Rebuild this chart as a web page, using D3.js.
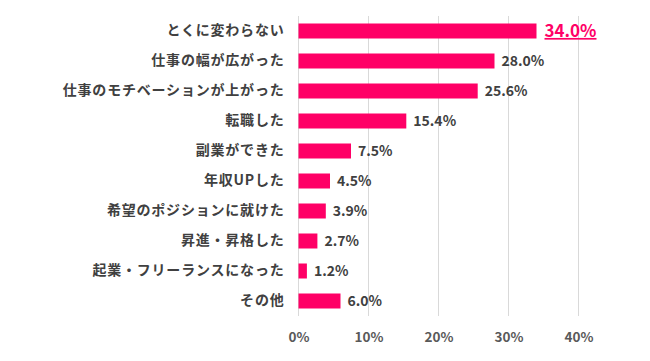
<!DOCTYPE html>
<html>
<head>
<meta charset="utf-8">
<script src="https://cdn.jsdelivr.net/npm/d3@7"></script>
<style>
  body { margin: 0; background: #fff; }
  svg text { font-family: "Noto Sans CJK JP", "Noto Sans", sans-serif; font-weight: bold; }
</style>
</head>
<body>
<div id="chart"></div>
<script>
// カテゴリと値
const categories = [
  'とくに変わらない',
  '仕事の幅が広がった',
  '仕事のモチベーションが上がった',
  '転職した',
  '副業ができた',
  '年収UPした',
  '希望のポジションに就けた',
  '昇進・昇格した',
  '起業・フリーランスになった',
  'その他'
];
const values = [34.0, 28.0, 25.6, 15.4, 7.5, 4.5, 3.9, 2.7, 1.2, 6.0];
const xTicks = [0, 10, 20, 30, 40];

const width = 650, height = 361;
const margin = { top: 16, right: 72, bottom: 45, left: 298.5 };
const innerW = width - margin.left - margin.right;
const innerH = height - margin.top - margin.bottom;

const data = categories.map((c, i) => ({ cat: c, val: values[i] }));

const svg = d3.select('#chart').append('svg')
  .attr('width', width)
  .attr('height', height);
const g = svg.append('g')
  .attr('transform', 'translate(' + margin.left + ',' + margin.top + ')');

const x = d3.scaleLinear().domain([0, 40]).range([0, 280]);
const y = d3.scaleBand().domain(categories).range([0, innerH])
  .paddingInner(0.5).paddingOuter(0.25);

// グリッド線
g.selectAll('.grid')
  .data(xTicks)
  .enter().append('line')
  .attr('x1', d => x(d)).attr('x2', d => x(d))
  .attr('y1', 0).attr('y2', innerH)
  .attr('stroke', '#d9d9d9')
  .attr('stroke-width', 1);

// x軸
const xAxis = d3.axisBottom(x).tickValues(xTicks).tickFormat(d => d + '%').tickSize(0).tickPadding(16);
g.append('g')
  .attr('transform', 'translate(0,' + innerH + ')')
  .call(xAxis)
  .call(s => s.select('.domain').remove())
  .selectAll('text')
  .attr('fill', '#595959')
  .style('font-size', '13.5px');

// y軸ラベル
const yAxis = d3.axisLeft(y).tickSize(0).tickPadding(14);
g.append('g')
  .call(yAxis)
  .call(s => s.select('.domain').remove())
  .selectAll('text')
  .attr('fill', '#404040')
  .style('font-size', '14px')
  .style('letter-spacing', '0.8px');

// バー
g.selectAll('.bar')
  .data(data)
  .enter().append('rect')
  .attr('x', 0)
  .attr('y', d => y(d.cat))
  .attr('width', d => x(d.val))
  .attr('height', y.bandwidth())
  .attr('fill', '#ff0066');

// 値ラベル
g.selectAll('.val')
  .data(data)
  .enter().append('text')
  .attr('x', d => x(d.val) + (d.cat === categories[0] ? 8 : 7))
  .attr('y', d => y(d.cat) + y.bandwidth() / 2)
  .attr('dy', '0.35em')
  .attr('fill', (d, i) => i === 0 ? '#ff0066' : '#404040')
  .style('font-size', (d, i) => i === 0 ? '17px' : '14px')
  .style('text-decoration', (d, i) => i === 0 ? 'underline' : 'none')
  .text(d => d.val.toFixed(1) + '%');
</script>
</body>
</html>
